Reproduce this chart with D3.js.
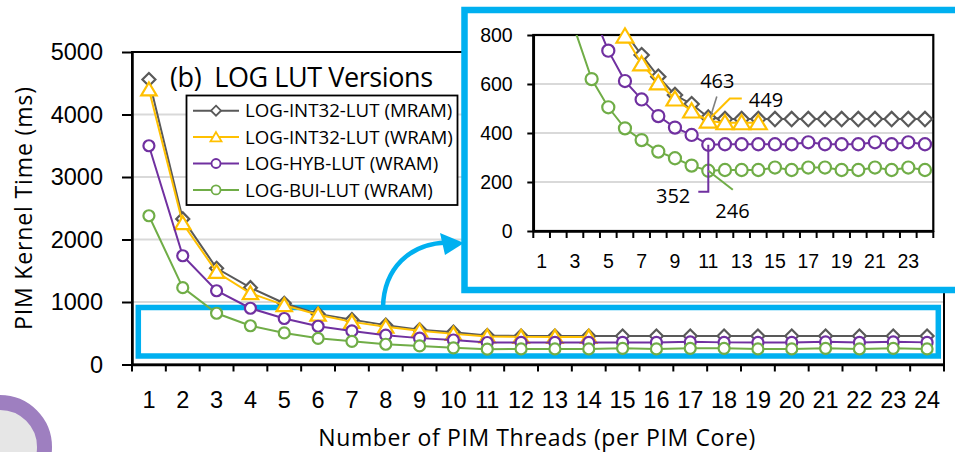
<!DOCTYPE html>
<html>
<head>
<meta charset="utf-8">
<script src="https://cdn.jsdelivr.net/npm/d3@7/dist/d3.min.js"></script>
<style>
  html, body { margin: 0; padding: 0; background: #fff; }
  svg { display: block; font-family: "Open Sans", "Noto Sans", sans-serif; }
</style>
</head>
<body>
<svg id="chart" width="955" height="452"></svg>
<script>
// Number of PIM threads per PIM core
const threads = [1, 2, 3, 4, 5, 6, 7, 8, 9, 10, 11, 12, 13, 14, 15, 16, 17, 18, 19, 20, 21, 22, 23, 24];

// PIM kernel time (ms) for each LOG lookup-table variant
const logInt32Mram = [4560, 2330, 1540, 1230, 980, 810, 718, 630, 555, 518, 463, 457, 457, 457, 457, 457, 457, 457, 457, 457, 457, 457, 457, 457];
const logInt32Wram = [4400, 2260, 1480, 1140, 950, 796, 682, 605, 539, 490, 449, 442, 442, 442];
const logHybWram   = [3500, 1740, 1180, 900, 736, 612, 537, 469, 422, 392, 352, 354, 354, 354, 354, 354, 362, 354, 354, 354, 362, 354, 362, 354];
const logBuiWram   = [2380, 1230, 820, 620, 505, 419, 371, 324, 297, 267, 246, 249, 249, 249, 259, 249, 259, 259, 249, 249, 259, 249, 259, 249];

const seriesNames = ["LOG-INT32-LUT (MRAM)", "LOG-INT32-LUT (WRAM)", "LOG-HYB-LUT (WRAM)", "LOG-BUI-LUT (WRAM)"];
const seriesColors = ["#595959", "#FFC000", "#7030A0", "#70AD47"];
const seriesShapes = ["diamond", "triangle", "circle", "circle"];
const seriesValues = [logInt32Mram, logInt32Wram, logHybWram, logBuiWram];

const mainTicks = [0, 1000, 2000, 3000, 4000, 5000];
const insetTicks = [0, 200, 400, 600, 800];
const insetXLabels = [1, 3, 5, 7, 9, 11, 13, 15, 17, 19, 21, 23];

const titleText = "(b)  LOG LUT Versions";
const xTitle = "Number of PIM Threads (per PIM Core)";
const yTitle = "PIM Kernel Time (ms)";

const series = seriesNames.map((name, i) => ({
  name, color: seriesColors[i], shape: seriesShapes[i],
  points: seriesValues[i].map((v, j) => ({ t: threads[j], v }))
}));

const svg = d3.select("#chart");
const blue = "#00B0F0";
const grid = "#D9D9D9";

// marker path for a given shape and half-size
function markerPath(shape, s) {
  if (shape === "diamond") return `M0,${-s}L${s},0L0,${s}L${-s},0Z`;
  if (shape === "triangle") return `M0,${-s}L${s * 1.1},${s * 0.85}L${-s * 1.1},${s * 0.85}Z`;
  const p = d3.path(); p.arc(0, 0, s, 0, 2 * Math.PI); return p.toString();
}
const markerSize = { diamond: 6.5, triangle: 7, circle: 5.5 };

// ---------- decorative ring, lower left ----------
svg.append("circle").attr("cx", 0).attr("cy", 447).attr("r", 44.5)
  .attr("fill", "#E6E6E6").attr("stroke", "#9E7FC0").attr("stroke-width", 15);

// ---------- main chart ----------
const L = 132, R = 944, T = 52, B = 364.5;
const x = d3.scaleBand().domain(threads).range([L, R]);
const y = d3.scaleLinear().domain([0, 5000]).range([B, T]);

const main = svg.append("g");

main.append("g").selectAll("line").data(mainTicks.slice(1)).join("line")
  .attr("x1", L).attr("x2", R).attr("y1", d => y(d)).attr("y2", d => y(d))
  .attr("stroke", grid).attr("stroke-width", 2);

main.append("rect").attr("x", L).attr("y", T).attr("width", R - L).attr("height", B - T)
  .attr("fill", "none").attr("stroke", "#000").attr("stroke-width", 2);

// y axis
const yAxis = main.append("g").attr("transform", `translate(${L},0)`)
  .call(d3.axisLeft(y).tickValues(mainTicks).tickSize(10).tickSizeOuter(0).tickPadding(19).tickFormat(d3.format("d")));
yAxis.select(".domain").attr("stroke", "#000").attr("stroke-width", 2.5);
yAxis.selectAll(".tick line").attr("stroke", "#000").attr("stroke-width", 2);
yAxis.selectAll("text").attr("font-size", 23.5).attr("fill", "#000").attr("font-family", null);

// x axis: labels centred on bands, ticks on band boundaries
const xAxis = main.append("g").attr("transform", `translate(0,${B})`)
  .call(d3.axisBottom(x).tickSize(0).tickPadding(27));
xAxis.select(".domain").attr("stroke", "#000").attr("stroke-width", 2.5);
xAxis.selectAll("text").attr("font-size", 23.5).attr("fill", "#000").attr("font-family", null);
main.append("g").selectAll("line").data(threads.concat([null])).join("line")
  .attr("x1", (d, i) => i < threads.length ? x(d) : R)
  .attr("x2", (d, i) => i < threads.length ? x(d) : R)
  .attr("y1", B).attr("y2", B + 7).attr("stroke", "#000").attr("stroke-width", 2);

// highlighted region that the inset enlarges
main.append("rect").attr("x", 138.3).attr("y", 307.5).attr("width", 800).attr("height", 48.5)
  .attr("fill", "none").attr("stroke", blue).attr("stroke-width", 5.5);

function drawSeries(g, xs, ys, scale, visible) {
  const cx = d => xs(d.t) + xs.bandwidth() / 2;
  series.forEach(s => {
    const sg = g.append("g");
    sg.append("path").datum(s.points)
      .attr("d", d3.line().x(cx).y(d => ys(d.v)))
      .attr("fill", "none").attr("stroke", s.color).attr("stroke-width", 2)
      .attr("clip-path", visible ? "url(#insetClip)" : null);
    sg.selectAll("path.m").data(s.points.filter(d => !visible || d.v <= visible)).join("path")
      .attr("class", "m")
      .attr("transform", d => `translate(${cx(d)},${ys(d.v)})`)
      .attr("d", markerPath(s.shape, markerSize[s.shape] * scale))
      .attr("fill", "#fff").attr("stroke", s.color).attr("stroke-width", 2.2);
  });
}
drawSeries(main.append("g"), x, y, 1, null);

// title
main.append("text").attr("x", 170).attr("y", 86.7).attr("font-size", 27).attr("fill", "#000")
  .attr("textLength", 263).attr("lengthAdjust", "spacing")
  .attr("xml:space", "preserve").style("white-space", "pre").text(titleText);

// legend
const lg = main.append("g");
lg.append("rect").attr("x", 186.5).attr("y", 95.5).attr("width", 271).attr("height", 109.5)
  .attr("fill", "#fff").attr("stroke", "#000").attr("stroke-width", 1.8);
series.forEach((s, i) => {
  const ly = 110.7 + i * 26.4;
  lg.append("line").attr("x1", 193).attr("x2", 239).attr("y1", ly).attr("y2", ly)
    .attr("stroke", s.color).attr("stroke-width", 2);
  lg.append("path").attr("transform", `translate(216,${ly})`)
    .attr("d", markerPath(s.shape, s.shape === "circle" ? 4.5 : 5))
    .attr("fill", "#fff").attr("stroke", s.color).attr("stroke-width", 1.8);
  lg.append("text").attr("x", 245).attr("y", ly).attr("dy", "0.36em")
    .attr("font-size", 18.7).attr("fill", "#000").text(s.name);
});

// axis titles
main.append("text").attr("x", 318.3).attr("y", 446).attr("font-size", 23).attr("fill", "#000")
  .attr("textLength", 437).attr("lengthAdjust", "spacing").text(xTitle);
main.append("text").attr("transform", "translate(31.5,330) rotate(-90)")
  .attr("font-size", 23).attr("fill", "#000")
  .attr("textLength", 243).attr("lengthAdjust", "spacing").text(yTitle);

// curved arrow towards the inset
main.append("path").attr("d", "M383,307 C384,268 410,244 446,242.5")
  .attr("fill", "none").attr("stroke", blue).attr("stroke-width", 4.5);
main.append("path").attr("d", "M464,243 L440,233 L445,255 Z").attr("fill", blue);

// ---------- inset ----------
const iL = 533.3, iR = 933.3, iT = 35, iB = 231;
const xi = d3.scaleBand().domain(threads).range([iL, iR]);
const yi = d3.scaleLinear().domain([0, 800]).range([iB, iT]);

const inset = svg.append("g");
inset.append("rect").attr("x", 464.5).attr("y", 10).attr("width", 520).attr("height", 280)
  .attr("fill", "#fff").attr("stroke", blue).attr("stroke-width", 6.5);

svg.append("defs").append("clipPath").attr("id", "insetClip")
  .append("rect").attr("x", iL).attr("y", iT).attr("width", iR - iL).attr("height", iB - iT);

inset.append("g").selectAll("line").data(insetTicks.slice(1, -1)).join("line")
  .attr("x1", iL).attr("x2", iR).attr("y1", d => yi(d)).attr("y2", d => yi(d))
  .attr("stroke", grid).attr("stroke-width", 2);
inset.append("rect").attr("x", iL).attr("y", iT).attr("width", iR - iL).attr("height", iB - iT)
  .attr("fill", "none").attr("stroke", "#000").attr("stroke-width", 2.2);

const yiAxis = inset.append("g").attr("transform", `translate(${iL},0)`)
  .call(d3.axisLeft(yi).tickValues(insetTicks).tickSize(6).tickSizeOuter(0).tickPadding(14.6));
yiAxis.select(".domain").attr("stroke", "#000").attr("stroke-width", 2.5);
yiAxis.selectAll(".tick line").attr("stroke", "#000").attr("stroke-width", 2);
yiAxis.selectAll("text").attr("font-size", 19.5).attr("fill", "#000").attr("font-family", null);

const xiAxis = inset.append("g").attr("transform", `translate(0,${iB})`)
  .call(d3.axisBottom(xi).tickValues(insetXLabels).tickSize(0).tickPadding(23.5));
xiAxis.select(".domain").attr("stroke", "#000").attr("stroke-width", 2.5);
xiAxis.selectAll("text").attr("font-size", 19.5).attr("fill", "#000").attr("font-family", null);
inset.append("g").selectAll("line").data(threads.concat([null])).join("line")
  .attr("x1", (d, i) => i < threads.length ? xi(d) : iR)
  .attr("x2", (d, i) => i < threads.length ? xi(d) : iR)
  .attr("y1", iB).attr("y2", iB + 7).attr("stroke", "#000").attr("stroke-width", 2);

drawSeries(inset.append("g"), xi, yi, 1.1, 800);

// value call-outs at 11 threads
const at = 10;
const px = xi(threads[at]) + xi.bandwidth() / 2;
const call = inset.append("g").attr("font-size", 20).attr("fill", "#000");
const pG = yi(logInt32Mram[at]), pY = yi(logInt32Wram[at]), pH = yi(logHybWram[at]), pB = yi(logBuiWram[at]);
inset.append("path").attr("d", `M${px + 2},${pG}L${px + 8.5},${pG - 21}`)
  .attr("stroke", "#7F7F7F").attr("stroke-width", 1.6).attr("fill", "none");
call.append("text").attr("x", px + 9).attr("y", pG - 37).attr("dy", "0.36em").attr("text-anchor", "middle")
  .text(logInt32Mram[at]);
inset.append("path").attr("d", `M${px + 3},${pY - 4}L${px + 21.5},${pY - 22.5}L${px + 33.5},${pY - 22.5}`)
  .attr("stroke", "#FFC000").attr("stroke-width", 2).attr("fill", "none");
call.append("text").attr("x", px + 40.5).attr("y", pY - 21).attr("dy", "0.36em")
  .text(logInt32Wram[at]);
inset.append("path").attr("d", `M${px},${pH}L${px},${pH + 47}L${px - 10},${pH + 47}`)
  .attr("stroke", "#7030A0").attr("stroke-width", 2).attr("fill", "none");
call.append("text").attr("x", px - 18).attr("y", pH + 51).attr("dy", "0.36em").attr("text-anchor", "end")
  .text(logHybWram[at]);
inset.append("path").attr("d", `M${px},${pB}L${px + 24.5},${pB + 19}`)
  .attr("stroke", "#70AD47").attr("stroke-width", 2).attr("fill", "none");
call.append("text").attr("x", px + 7).attr("y", pB + 40).attr("dy", "0.36em")
  .text(logBuiWram[at]);
</script>
</body>
</html>
